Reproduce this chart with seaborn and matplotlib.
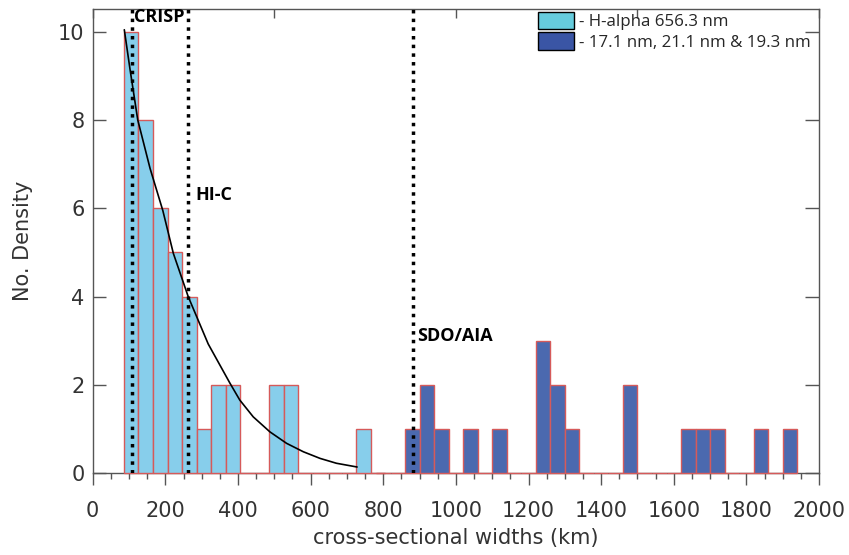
import numpy as np
import pandas as pd
import matplotlib
matplotlib.use("Agg")
import matplotlib.pyplot as plt
from matplotlib.patches import Patch
import seaborn as sns

# Histogram of H-alpha (656.3 nm) cross-sectional widths
ha_edges = [86, 126, 166, 206, 246, 286, 326, 366, 406, 446, 486, 526, 566,
            606, 646, 686, 726, 766, 806]
ha_counts = [10, 8, 6, 5, 4, 1, 2, 2, 0, 0, 2, 2, 0, 0, 0, 0, 1, 0]

# Histogram of EUV (17.1, 21.1, 19.3 nm) cross-sectional widths
euv_edges = [780, 820, 860, 900, 940, 980, 1020, 1060, 1100, 1140, 1180, 1220,
             1260, 1300, 1340, 1380, 1420, 1460, 1500, 1540, 1580, 1620, 1660,
             1700, 1740, 1780, 1820, 1860, 1900, 1940]
euv_counts = [0, 0, 1, 2, 1, 0, 1, 0, 1, 0, 0, 3, 2, 1, 0, 0, 0, 2, 0, 0, 0,
              1, 1, 1, 0, 0, 1, 0, 1]

# Fitted distribution curve over the H-alpha widths
fit_x = [87, 103, 124, 158, 193, 222, 263, 318, 378, 405, 442, 488,
         534, 580, 626, 671, 728]
fit_y = [10.04, 9.13, 8.0, 6.9, 5.95, 4.98, 4.0, 2.93, 2.04, 1.66, 1.28,
         0.94, 0.68, 0.49, 0.34, 0.23, 0.145]

# Instrument resolution limits (km)
instruments = ["CRISP", "HI-C", "SDO/AIA"]
instrument_res = [107, 262, 882]
instrument_label_xy = [(113, 10.33), (284, 6.3), (892, 3.11)]

legend_labels = ["- H-alpha 656.3 nm", "- 17.1 nm, 21.1 nm & 19.3 nm"]

sns.set_theme(style="ticks")
plt.rcParams["font.family"] = ["DejaVu Sans"]
text_col = "#333333"
spine_col = "#555555"

fig = plt.figure(figsize=(8.49, 5.55), dpi=100)
ax = fig.add_axes([0.1092, 0.147, 0.9647 - 0.1092, 0.9838 - 0.147])

def centers(edges):
    e = np.asarray(edges, dtype=float)
    return (e[:-1] + e[1:]) / 2

ha_df = pd.DataFrame({"width": centers(ha_edges), "n": ha_counts})
euv_df = pd.DataFrame({"width": centers(euv_edges), "n": euv_counts})

edge_red = "#d65a5a"
sns.histplot(data=ha_df, x="width", weights="n", bins=ha_edges, color="#87ceeb",
             edgecolor=edge_red, linewidth=1.0, alpha=1, ax=ax)
sns.histplot(data=euv_df, x="width", weights="n", bins=euv_edges, color="#4b69af",
             edgecolor=edge_red, linewidth=1.0, alpha=1, ax=ax)
for p in ax.patches:
    p.set_zorder(3)
    p.set_clip_on(False)

sns.lineplot(x=fit_x, y=fit_y, color="black", linewidth=1.2, sort=False,
             estimator=None, ax=ax, zorder=5)

for name, res, (tx, ty) in zip(instruments, instrument_res, instrument_label_xy):
    ax.axvline(res, color="black", linewidth=2.5, linestyle=(0, (1.0, 1.5)),
               zorder=6)
    ax.text(tx, ty, name, fontsize=13, fontweight="bold", family="Open Sans",
            color="black", va="center", ha="left", zorder=7)

ax.set_xlim(0, 2000)
ax.set_ylim(0, 10.51)
ax.set_xticks(np.arange(0, 2001, 200))
ax.set_xticks(np.arange(0, 2001, 50), minor=True)
ax.set_yticks(np.arange(0, 11, 2))

ax.tick_params(axis="x", which="major", direction="out", length=8.6, width=1,
               color=spine_col, labelsize=15, labelcolor=text_col, pad=11)
ax.tick_params(axis="x", which="minor", direction="out", length=4.3, width=1,
               color=spine_col)
ax.tick_params(axis="y", which="major", direction="in", length=9.5, width=1,
               color=spine_col, labelsize=15, labelcolor=text_col, pad=6)

top = ax.secondary_xaxis("top")
top.set_xticks([0, 500, 1000, 1500, 2000])
top.tick_params(direction="in", length=6.5, width=1, color=spine_col,
                labeltop=False)
right = ax.secondary_yaxis("right")
right.set_yticks(np.arange(0, 11, 2))
right.tick_params(direction="in", length=10, width=1, color=spine_col,
                  labelright=False)
for sp in list(ax.spines.values()):
    sp.set_color(spine_col)
    sp.set_linewidth(1.0)
for sec in (top, right):
    for sp in sec.spines.values():
        sp.set_visible(False)

ax.set_xlabel("cross-sectional widths (km)", fontsize=15, color=text_col,
              labelpad=5)
ax.set_ylabel("No. Density", fontsize=15, color=text_col, labelpad=18)

handles = [Patch(facecolor="#66ccdd", edgecolor="black", linewidth=1.0),
           Patch(facecolor="#3a55a5", edgecolor="black", linewidth=1.0)]
ax.legend(handles, legend_labels, loc="upper left",
          bbox_to_anchor=(0.613, 0.994), frameon=False, borderpad=0,
          borderaxespad=0, handlelength=2.1, handleheight=1.2,
          handletextpad=0.3, labelspacing=0.12,
          prop={"family": "Open Sans", "size": 12.2})

fig.savefig("out.png", dpi=100)
